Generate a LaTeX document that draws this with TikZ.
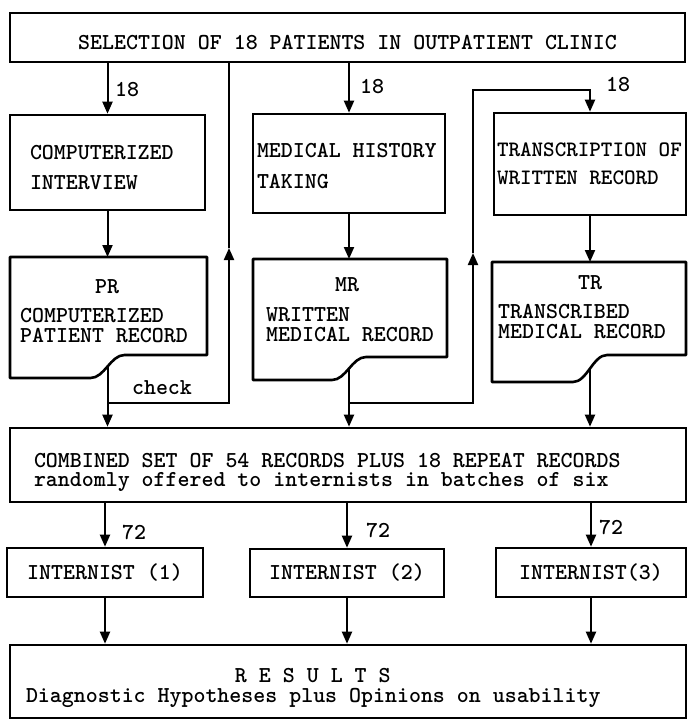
\documentclass[tikz,border=0pt]{standalone}
\usepackage{fontspec}
\usetikzlibrary{arrows.meta}

\newcommand\typesize{\ttfamily\bfseries\fontsize{22.8}{20}\selectfont}
\newcommand\topgap[1]{\rule{0pt}{#1}}
\tikzset{
  box/.style={draw, line width=2.6pt, inner ysep=0pt, font=\typesize,
    execute at begin node={\spaceskip=0pt\xspaceskip=0pt}},
  doc/.style={draw, line width=2.6pt, line join=round},
  doctext/.style={anchor=west, inner sep=0pt, align=left, font=\typesize,
    execute at begin node={\spaceskip=0pt\xspaceskip=0pt}},
  num/.style={inner sep=0pt, font=\typesize},
  conn/.style={line width=2pt},
  arr/.style={conn, -{Triangle[length=12pt,width=10pt]}}
}

\begin{document}
\begin{tikzpicture}[x=1pt,y=-1pt]
  \useasboundingbox (0,0) rectangle (689,720);

  \node[box, minimum width=675pt, minimum height=49pt, text height=25pt, align=center] (sel) at (347.5,37.5)
    {SELECTION OF 18 PATIENTS IN OUTPATIENT CLINIC};

  \node[box, minimum width=195pt, minimum height=95pt, inner xsep=20pt, text width=155pt, align=left] (cint) at (107.5,162.5)
    {\topgap{25pt}COMPUTERIZED\\[10pt]INTERVIEW};
  \node[box, minimum width=192pt, minimum height=99pt, inner xsep=4pt, text width=184pt, align=left] (mhist) at (349,163.5)
    {\topgap{20pt}MEDICAL HISTORY\\[11pt]TAKING};
  \node[box, minimum width=192pt, minimum height=102pt, inner xsep=3pt, text width=186pt, align=left] (trans) at (590,164)
    {\fontsize{22}{20}\selectfont TRANSCRIPTION OF\\[8pt]WRITTEN RECORD};

  % record sheets
  \draw[doc] (10,257) -- (207,257) -- (207,355) -- (124.5,355) .. controls (110.5,355) and (104.5,378) .. (90.5,378) -- (10,378) -- cycle;
  \draw[doc] (253,259) -- (447,259) -- (447,357) -- (366,357) .. controls (352,357) and (346,380) .. (332,380) -- (253,380) -- cycle;
  \draw[doc] (492,262) -- (686,262) -- (686,355) -- (607,355) .. controls (593,355) and (587,382) .. (573,382) -- (492,382) -- cycle;
  \coordinate (pr-in) at (107.5,257);
  \coordinate (pr-out) at (107.5,366.5);
  \coordinate (mr-in) at (349,259);
  \coordinate (mr-out) at (349,368.5);
  \coordinate (tr-in) at (590,262);
  \coordinate (tr-out) at (590,368.5);
  \node[doctext] (pr) at (20,311.5) {\hspace*{75pt}PR\\[9pt]COMPUTERIZED\\PATIENT RECORD};
  \node[doctext] (mr) at (266,310) {\hspace*{69pt}MR\\[10pt]WRITTEN\\MEDICAL RECORD};
  \node[doctext] (tr) at (498,307.5) {\hspace*{80pt}TR\\[9pt]TRANSCRIBED\\MEDICAL RECORD};

  \node[box, minimum width=676pt, minimum height=74pt, inner xsep=24pt, text width=628pt, align=left] (comb) at (348,465)
    {\topgap{29.5pt}COMBINED SET OF 54 RECORDS PLUS 18 REPEAT RECORDS\\[-1.5pt]randomly offered to internists in batches of six};

  \node[box, minimum width=196pt, minimum height=49pt, align=center] (int1) at (105,572.5) {INTERNIST (1)};
  \node[box, minimum width=194pt, minimum height=48pt, align=center] (int2) at (347,573) {INTERNIST (2)};
  \node[box, minimum width=190pt, minimum height=49pt, align=center] (int3) at (591,572.5) {INTERNIST(3)};

  \node[box, minimum width=676pt, minimum height=73pt, inner xsep=16pt, text width=644pt, align=left] (res) at (348,681.5)
    {\topgap{28pt}\hspace*{209pt}R E S U L T S\\Diagnostic Hypotheses plus Opinions on usability};

  % connectors
  \draw[arr] (sel.south -| cint) -- (cint);
  \draw[arr] (sel.south -| mhist) -- (mhist);
  \draw[arr] (cint) -- (pr-in);
  \draw[arr] (mhist) -- (mr-in);
  \draw[arr] (trans) -- (tr-in);
  \draw[arr] (pr-out) -- (pr-out |- comb.north);
  \draw[arr] (mr-out) -- (mr-out |- comb.north);
  \draw[arr] (tr-out) -- (tr-out |- comb.north);

  \coordinate (chk-a) at (107.5,403);
  \coordinate (chk-b) at (229,403);
  \coordinate (chk-tip) at (229,248);
  \draw[arr] (chk-a) -- (chk-b) -- (chk-tip);
  \draw[conn] (chk-tip) -- (chk-tip |- sel.south);
  \node[num] (chk) at (162,388) {check};

  \coordinate (cp-a) at (349,403);
  \coordinate (cp-b) at (473,403);
  \coordinate (cp-tip) at (473,253);
  \coordinate (cp-c) at (473,90);
  \draw[arr] (cp-a) -- (cp-b) -- (cp-tip);
  \draw[arr] (cp-tip) -- (cp-c) -- (cp-c -| trans) -- (trans);

  \draw[arr] (comb.south -| int1) -- (int1);
  \draw[arr] (comb.south -| int2) -- (int2);
  \draw[arr] (comb.south -| int3) -- (int3);
  \draw[arr] (int1) -- (int1 |- res.north);
  \draw[arr] (int2) -- (int2 |- res.north);
  \draw[arr] (int3) -- (int3 |- res.north);

  \node[num] (n-a) at (127,90) {18};
  \node[num] (n-b) at (372,87) {18};
  \node[num] (n-c) at (618,85) {18};
  \node[num] (n-d) at (134,532) {72};
  \node[num] (n-e) at (378,530) {72};
  \node[num] (n-f) at (611,527) {72};
\end{tikzpicture}
\end{document}
